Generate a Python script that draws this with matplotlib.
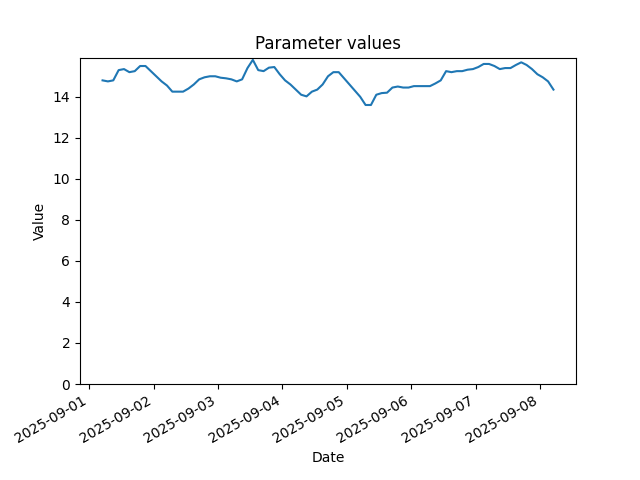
import matplotlib
matplotlib.use("Agg")
import matplotlib.pyplot as plt
import pandas as pd

# readings every 2 hours, starting 2025-09-01 05:00
start = "2025-09-01 05:00"
step = "2h"
values = [
    14.8, 14.75, 14.8, 15.3, 15.35, 15.2, 15.25, 15.5, 15.5, 15.25, 15.0, 14.75,
    14.55, 14.25, 14.25, 14.25, 14.4, 14.6, 14.85, 14.95, 15.0, 15.0, 14.93, 14.9,
    14.85, 14.75, 14.85, 15.4, 15.8, 15.3, 15.25, 15.42, 15.45, 15.1, 14.8, 14.6,
    14.35, 14.1, 14.02, 14.25, 14.35, 14.6, 15.0, 15.2, 15.2, 14.9, 14.6, 14.3,
    14.0, 13.6, 13.6, 14.1, 14.18, 14.2, 14.45, 14.5, 14.45, 14.45, 14.52, 14.52,
    14.52, 14.52, 14.65, 14.8, 15.25, 15.2, 15.25, 15.25, 15.32, 15.35, 15.45, 15.6,
    15.6, 15.5, 15.35, 15.4, 15.4, 15.55, 15.68, 15.55, 15.35, 15.1, 14.95, 14.75,
    14.35,
]
dates = pd.date_range(start, periods=len(values), freq=step)

fig, ax = plt.subplots(figsize=(6.4, 4.8), dpi=100)
ax.plot(dates, values)
ax.set_ylim(bottom=0)
ax.set_title("Parameter values")
ax.set_xlabel("Date")
ax.set_ylabel("Value")
fig.autofmt_xdate()
fig.savefig("out.png", dpi=100)
